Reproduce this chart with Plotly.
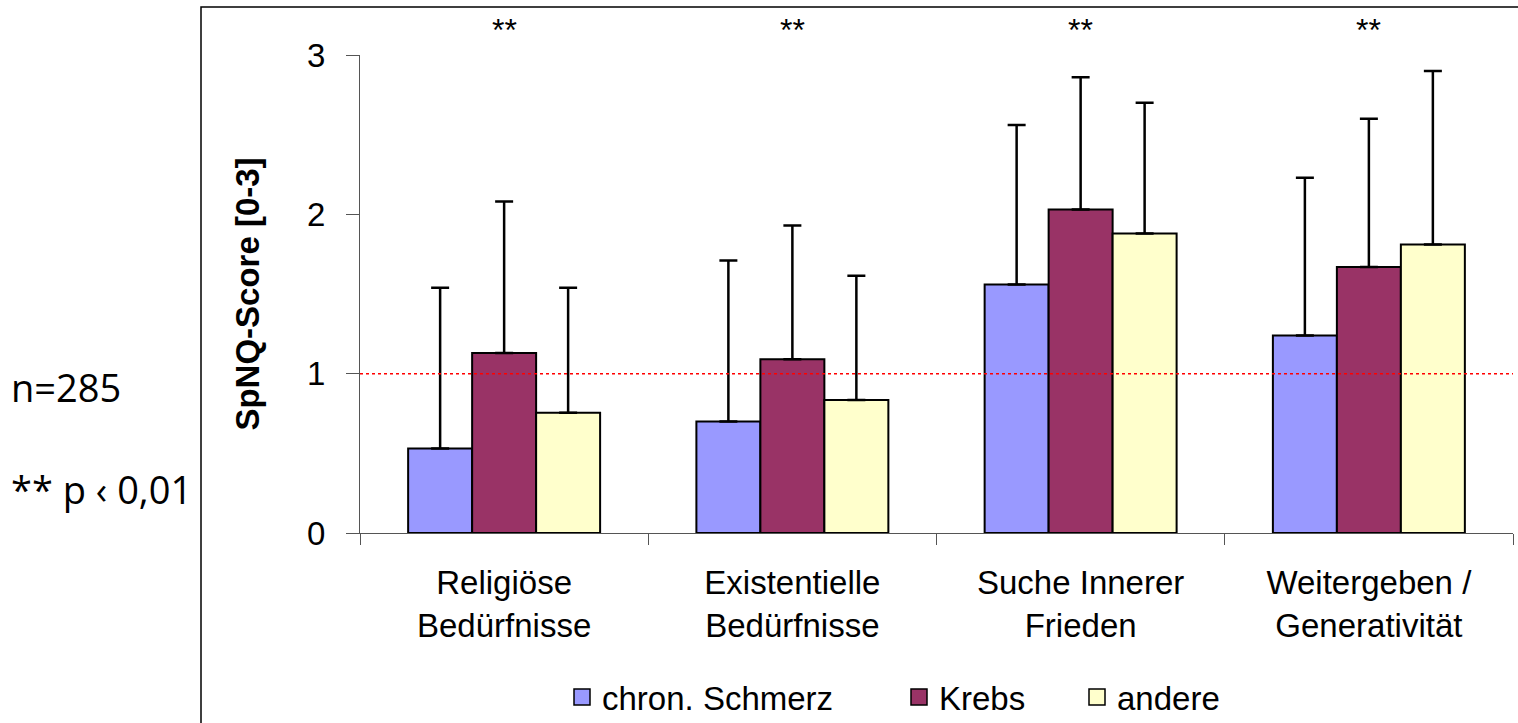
import plotly.graph_objects as go

# Categories (two-line tick labels)
categories = [
    "Religiöse<br>Bedürfnisse",
    "Existentielle<br>Bedürfnisse",
    "Suche Innerer<br>Frieden",
    "Weitergeben /<br>Generativität",
]

# Group names and mean SpNQ scores
groups = ["chron. Schmerz", "Krebs", "andere"]
mean_schmerz = [0.53, 0.70, 1.56, 1.24]
mean_krebs = [1.13, 1.09, 2.03, 1.67]
mean_andere = [0.755, 0.835, 1.88, 1.81]

# Standard deviations (upper error bars)
sd_schmerz = [1.01, 1.01, 1.00, 0.99]
sd_krebs = [0.95, 0.84, 0.83, 0.93]
sd_andere = [0.785, 0.78, 0.82, 1.09]

# Significance markers per category
significance = ["**", "**", "**", "**"]

reference_level = 1.0
colors = ["#9999FF", "#993366", "#FFFFCC"]

# Page geometry
W, H = 1518, 723
ML, MR, MT, MB = 360, 5, 55, 190
PW = W - ML - MR
PH = H - MT - MB


def px(x):
    return (x - ML) / PW


def py(y):
    return (H - MB - y) / PH


FONT = "Liberation Sans, Arial, sans-serif"

fig = go.Figure()

# Legend slots: one legend per group so each swatch sits at its own spot
legend_ids = ["legend", "legend2", "legend3"]
legend_left = [562, 899, 1077]

means = [mean_schmerz, mean_krebs, mean_andere]
sds = [sd_schmerz, sd_krebs, sd_andere]
for name, m, s, c, lid in zip(groups, means, sds, colors, legend_ids):
    fig.add_trace(go.Bar(
        x=categories, y=m, name=name,
        marker=dict(color=c, line=dict(color="black", width=2)),
        error_y=dict(type="data", array=s, symmetric=False,
                     arrayminus=[0] * len(s),
                     color="black", thickness=2.5, width=9),
        showlegend=False,
    ))
    # Legend entry with a larger square swatch
    fig.add_trace(go.Scatter(
        x=[None], y=[None], mode="markers", name=name,
        marker=dict(symbol="square", size=20, color=c,
                    line=dict(color="black", width=1.5)),
        showlegend=True, legend=lid,
    ))

# Significance stars above each group
for cat, sig in zip(categories, significance):
    fig.add_annotation(x=cat, xref="x", y=py(30), yref="paper",
                       text=sig, showarrow=False,
                       font=dict(family=FONT, size=32, color="black"),
                       xanchor="center", yanchor="middle")

# Sample size and significance note
NOTE_FONT = dict(family="Open Sans, sans-serif", size=38, color="black")
fig.add_annotation(x=px(9), y=py(387), xref="paper", yref="paper",
                   text="n=285", showarrow=False, xanchor="left", yanchor="middle",
                   font=NOTE_FONT)
fig.add_annotation(x=px(9), y=py(489), xref="paper", yref="paper",
                   text="** p ‹ 0,01", showarrow=False, xanchor="left", yanchor="middle",
                   font=NOTE_FONT)

# Reference line at score 1
fig.add_shape(type="line", xref="paper", yref="y", x0=0, x1=1,
              y0=reference_level, y1=reference_level,
              line=dict(color="red", width=1.5, dash="dot"))

# Chart frame
fig.add_shape(type="rect", xref="paper", yref="paper",
              x0=px(201), x1=px(1530), y0=py(740), y1=py(7),
              line=dict(color="black", width=1.5), fillcolor="rgba(0,0,0,0)")

legend_common = dict(orientation="h", xanchor="left", yanchor="middle",
                     y=py(697),
                     font=dict(family=FONT, size=33, color="black"),
                     itemsizing="trace", bgcolor="rgba(0,0,0,0)")

fig.update_layout(
    width=W, height=H,
    margin=dict(l=ML, r=MR, t=MT, b=MB, autoexpand=False),
    paper_bgcolor="white", plot_bgcolor="white",
    barmode="group", bargap=0.334, bargroupgap=0,
    font=dict(family=FONT, color="black"),
    legend=dict(x=px(legend_left[0]), **legend_common),
    legend2=dict(x=px(legend_left[1]), **legend_common),
    legend3=dict(x=px(legend_left[2]), **legend_common),
    showlegend=True,
)

fig.update_xaxes(
    showline=True, linecolor="#555", linewidth=1,
    ticks="outside", tickson="boundaries", ticklen=11, tickcolor="#555",
    tickfont=dict(family=FONT, size=33, color="black"),
    ticklabelstandoff=20,
    showgrid=False, zeroline=False,
)
fig.update_yaxes(
    range=[0, 3], tickvals=[0, 1, 2, 3],
    showline=True, linecolor="#555", linewidth=1,
    ticks="outside", ticklen=13, tickcolor="#555",
    tickfont=dict(family=FONT, size=33, color="black"),
    ticklabelstandoff=14,
    showgrid=False, zeroline=False,
    title=dict(text="<b>SpNQ-Score [0-3]</b>",
               font=dict(family=FONT, size=33, color="black"),
               standoff=37),
)

fig.write_html("out.html")
